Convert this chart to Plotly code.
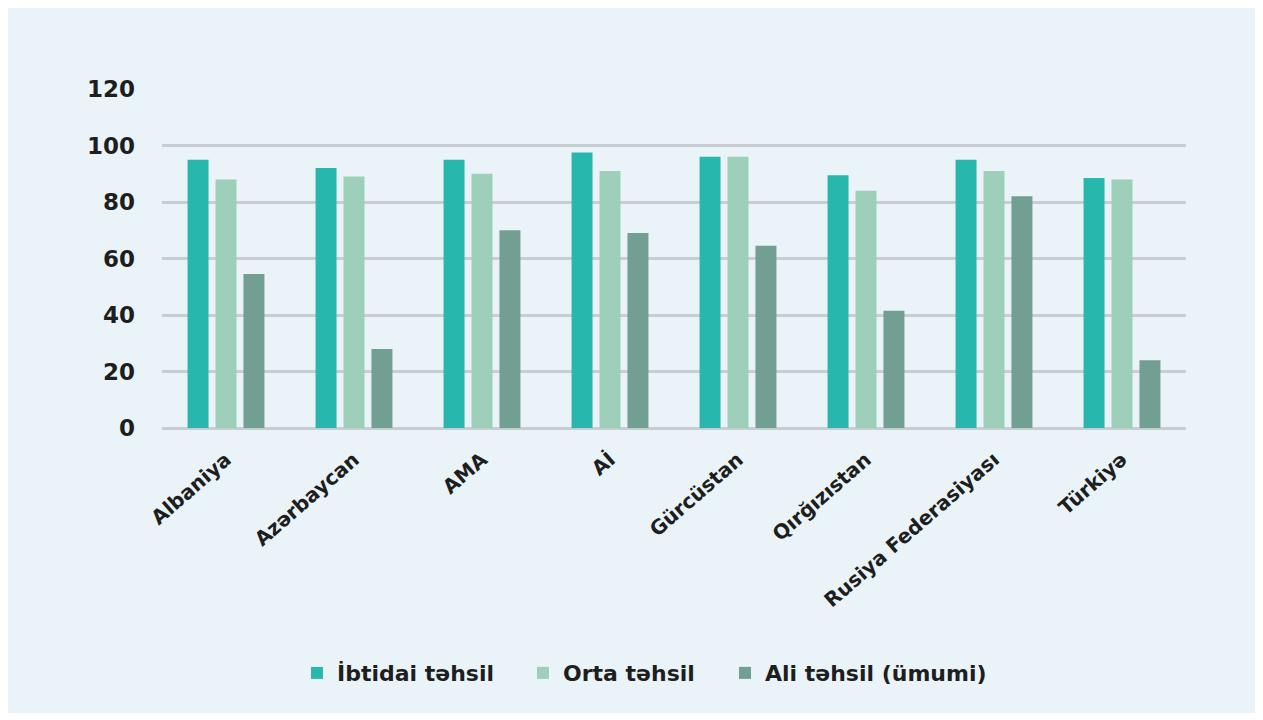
import plotly.graph_objects as go

categories = ["Albaniya", "Azərbaycan", "AMA", "Aİ", "Gürcüstan", "Qırğızıstan",
              "Rusiya Federasiyası", "Türkiyə"]
ibtidai = [95, 92, 95, 97.5, 96, 89.5, 95, 88.5]
orta = [88, 89, 90, 91, 96, 84, 91, 88]
ali = [54.5, 28, 70, 69, 64.5, 41.5, 82, 24]
series_names = ["İbtidai təhsil", "Orta təhsil", "Ali təhsil (ümumi)"]
y_ticks = [0, 20, 40, 60, 80, 100, 120]

colors = ["#28b7ac", "#9dcfbb", "#729f92"]
FONT = "DejaVu Sans, sans-serif"
TXT = "#1e1e1e"
bg = "#e9f3f8"

legend_ids = ["legend", "legend2", "legend3"]
legend_x = [0.1318, 0.3525, 0.5498]

fig = go.Figure()
for name, vals, col, lid in zip(series_names, [ibtidai, orta, ali], colors, legend_ids):
    fig.add_trace(go.Bar(x=categories, y=vals, name=name, marker_color=col,
                         marker_line_width=0, legend=lid, showlegend=True))

def leg(x):
    return dict(orientation="h", x=x, xanchor="left", y=-0.723, yanchor="middle",
                font=dict(size=22, family=FONT, color=TXT, weight="bold"),
                bgcolor="rgba(0,0,0,0)", itemwidth=30, visible=True)

fig.update_layout(
    width=1247, height=705,
    margin=dict(l=154, r=69, t=81, b=285),
    paper_bgcolor=bg,
    plot_bgcolor=bg,
    showlegend=True,
    barmode="group",
    bargap=0.345,
    bargroupgap=0.25,
    font=dict(family=FONT, color=TXT),
    legend=leg(legend_x[0]),
    legend2=leg(legend_x[1]),
    legend3=leg(legend_x[2]),
)
fig.update_xaxes(tickangle=-41, tickfont=dict(size=20, family=FONT, color=TXT, weight="bold"),
                 showgrid=False, showline=False, ticks="", ticklabelstandoff=15)
fig.update_yaxes(range=[0, 120], tickvals=y_ticks, showgrid=True, gridcolor="#c6ced3",
                 gridwidth=2.5, zeroline=True, zerolinecolor="#c6ced3", zerolinewidth=2.5,
                 tickfont=dict(size=23, family=FONT, color=TXT, weight="bold"),
                 ticklabelstandoff=26, showline=False)

fig.write_html("out.html")
